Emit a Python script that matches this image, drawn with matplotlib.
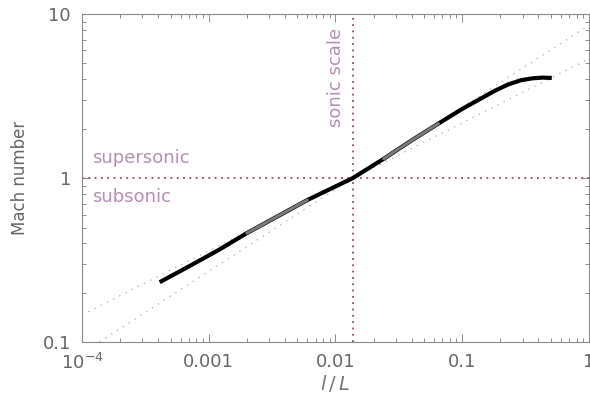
import numpy as np
import matplotlib
matplotlib.use('Agg')
import matplotlib.pyplot as plt
from matplotlib.ticker import FixedLocator, LogLocator, NullFormatter

# Mach number vs scale
scale = [4.1e-4, 7e-4, 1.2e-3, 2.0e-3, 3.5e-3, 6e-3, 0.0137, 0.024, 0.04, 0.065,
         0.1, 0.14, 0.18, 0.23, 0.29, 0.36, 0.43, 0.51]
mach = [0.232, 0.290, 0.365, 0.462, 0.585, 0.735, 1.0, 1.31, 1.70, 2.15,
        2.64, 3.05, 3.40, 3.72, 3.95, 4.06, 4.10, 4.08]

# lighter stretches of the curve (ranges of scale)
grey_parts = [(2.0e-3, 6e-3), (0.024, 0.065)]

sonic_scale = 0.0137
slopes = [0.39, 0.5]

xticks = [1e-4, 1e-3, 1e-2, 1e-1, 1.0]
xticklabels = ['$10^{-4}$', '0.001', '0.01', '0.1', '1']
yticks = [0.1, 1, 10]
yticklabels = ['0.1', '1', '10']

txtc = '#b48fb4'
linec = '#8c4a6e'
axc = '#8a8a8a'

fig = plt.figure(figsize=(5.9, 4.03), dpi=100)
ax = fig.add_axes([0.139, 0.151, 0.859, 0.814])
ax.set_xscale('log')
ax.set_yscale('log')
ax.set_xlim(1e-4, 1.0)
ax.set_ylim(0.1, 10)

# power law guides through the sonic point
xx = np.logspace(-4, 0, 50)
for s in slopes:
    ax.plot(xx, (xx / sonic_scale) ** s, ls=(0, (1, 4)), color='#b8b8b8', lw=1.0)

ax.axhline(1.0, ls=(0, (1, 2.5)), color=linec, lw=1.3)
ax.axvline(sonic_scale, ls=(0, (1, 2.5)), color=linec, lw=1.3)

sc = np.array(scale)
mc = np.array(mach)
ax.plot(sc, mc, color='black', lw=3.0, solid_capstyle='butt', solid_joinstyle='round')
for a, b in grey_parts:
    m = (sc >= a) & (sc <= b)
    ax.plot(sc[m], mc[m], color='#7a7a7a', lw=2.2, solid_capstyle='round')

ax.text(1.2e-4, 1.17, 'supersonic', color=txtc, fontsize=13, va='bottom')
ax.text(1.2e-4, 0.87, 'subsonic', color=txtc, fontsize=13, va='top')
ax.text(sonic_scale * 0.87, 8.3, 'sonic scale', color=txtc, fontsize=13,
        rotation=90, ha='right', va='top')

ax.xaxis.set_major_locator(FixedLocator(xticks))
ax.set_xticklabels(xticklabels)
ax.yaxis.set_major_locator(FixedLocator(yticks))
ax.set_yticklabels(yticklabels)
ax.xaxis.set_minor_locator(LogLocator(base=10, subs=np.arange(2, 10)))
ax.yaxis.set_minor_locator(LogLocator(base=10, subs=np.arange(2, 10)))
ax.xaxis.set_minor_formatter(NullFormatter())
ax.yaxis.set_minor_formatter(NullFormatter())
ax.tick_params(which='both', direction='in', top=True, right=True, color=axc,
               labelcolor='#666666', labelsize=13, width=0.7)
ax.tick_params(which='major', length=6, pad=8)
ax.tick_params(which='minor', length=3)
for sp in ax.spines.values():
    sp.set_color(axc)
    sp.set_linewidth(0.8)

ax.set_xlabel('$l\\,/\\,L$', fontsize=14, color='#777777', labelpad=0)
ax.set_ylabel('Mach number', fontsize=12, color='#666666', labelpad=10)

fig.savefig('out.png', dpi=100)
